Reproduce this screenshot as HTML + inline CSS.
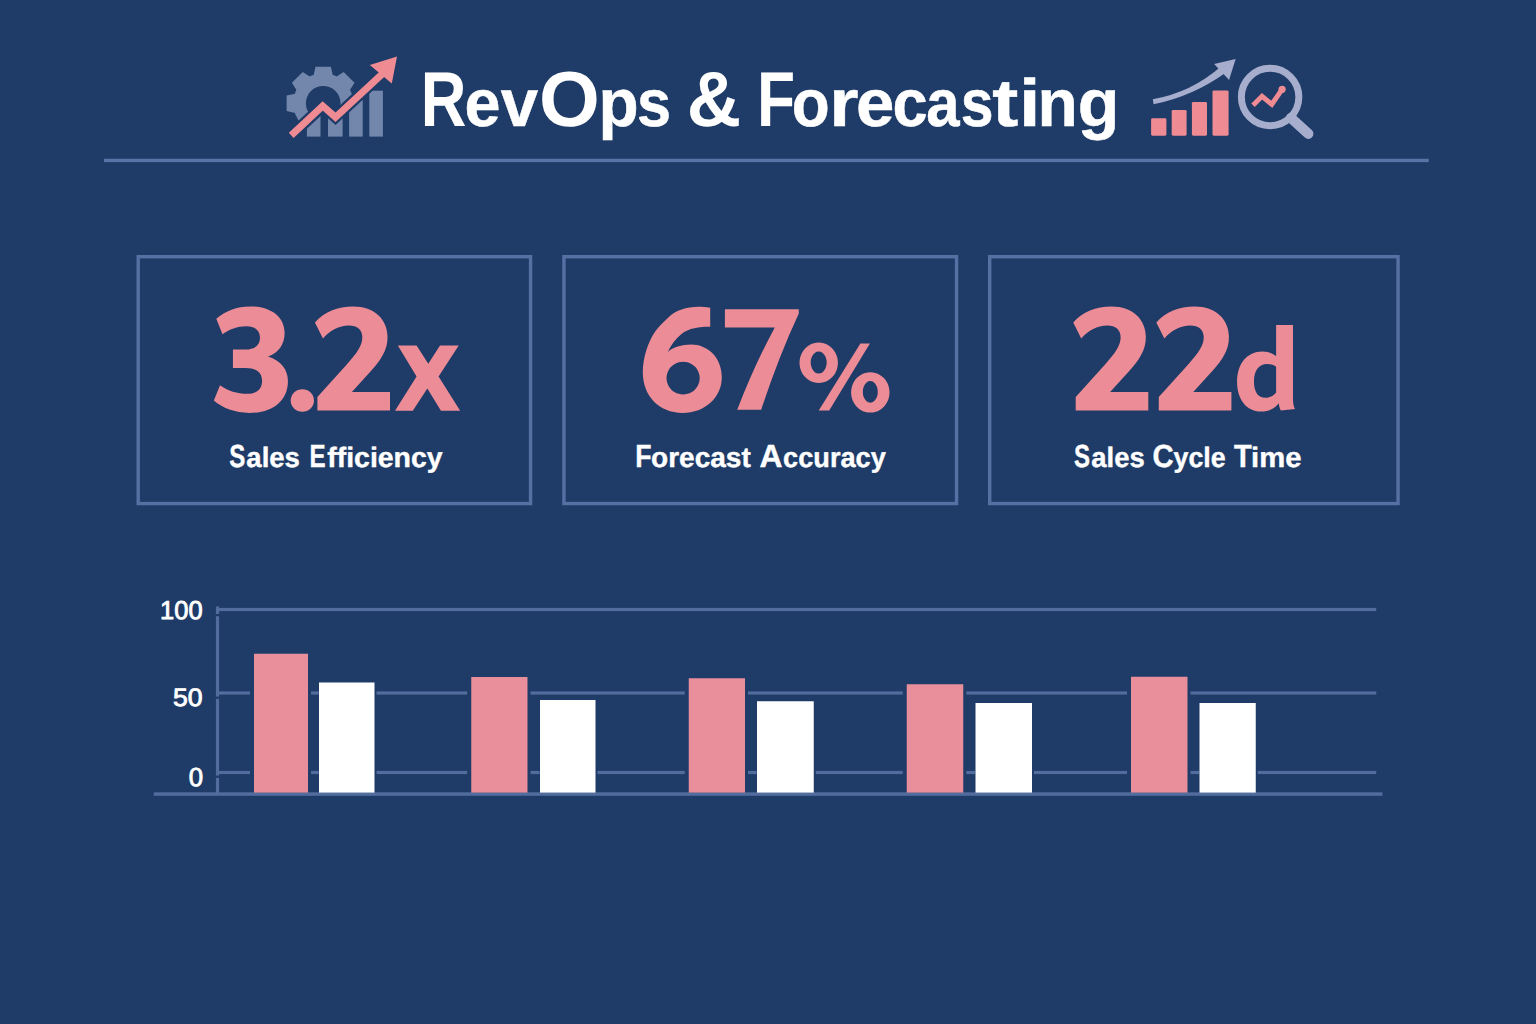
<!DOCTYPE html>
<html lang="en">
<head>
<meta charset="utf-8">
<title>RevOps &amp; Forecasting</title>
<style>
html,body{margin:0;padding:0;font-family:"Liberation Sans",sans-serif;}
body{width:1536px;height:1024px;overflow:hidden;background:#1f3b67;font-family:"Liberation Sans",sans-serif;}
#stage{position:relative;width:1536px;height:1024px;background:#1f3b67;overflow:hidden;}
.t{position:absolute;white-space:nowrap;line-height:1;transform-origin:0 0;font-family:"Liberation Sans",sans-serif;text-rendering:geometricPrecision;}
svg{position:absolute;left:0;top:0;}
</style>
</head>
<body>
<div id="stage">
<svg width="1536" height="1024" viewBox="0 0 1536 1024">
<rect x="104" y="158.75" width="1324.75" height="3.4" fill="#5874a7"/>
<g id="cards" fill="none" stroke="#5570a2" stroke-width="3.4">
<rect x="138.2" y="256.7" width="392.35" height="246.85"/>
<rect x="563.95" y="256.7" width="392.6" height="246.85"/>
<rect x="989.7" y="256.7" width="408.35" height="246.85"/>
</g>
<ellipse cx="302.35" cy="400.5" rx="11.65" ry="11.25" fill="#ec8c96"/>
<g id="chart" shape-rendering="geometricPrecision">
<rect x="216" y="607.90" width="1160.25" height="3.2" fill="#526c9d"/>
<rect x="216" y="691.40" width="1160.25" height="3.2" fill="#526c9d"/>
<rect x="216" y="770.90" width="1160.25" height="3.2" fill="#526c9d"/>
<rect x="215.9" y="606.4" width="3.2" height="187" fill="#526c9d"/>
<rect x="215" y="614.0" width="5" height="2.2" fill="#1f3b67"/>
<rect x="215" y="696.6" width="5" height="2.2" fill="#1f3b67"/>
<rect x="215" y="775.6" width="5" height="2.2" fill="#1f3b67"/>
<rect x="250.00" y="651.75" width="61.00" height="140.55" fill="#1f3b67"/>
<rect x="318.60" y="680.50" width="57.90" height="111.80" fill="#1f3b67"/>
<rect x="467.25" y="675.00" width="63.25" height="117.30" fill="#1f3b67"/>
<rect x="539.60" y="698.00" width="57.90" height="94.30" fill="#1f3b67"/>
<rect x="684.75" y="676.25" width="63.25" height="116.05" fill="#1f3b67"/>
<rect x="756.60" y="699.25" width="59.15" height="93.05" fill="#1f3b67"/>
<rect x="902.75" y="682.25" width="63.50" height="110.05" fill="#1f3b67"/>
<rect x="975.10" y="701.00" width="58.90" height="91.30" fill="#1f3b67"/>
<rect x="1127.00" y="674.75" width="63.50" height="117.55" fill="#1f3b67"/>
<rect x="1199.10" y="701.00" width="58.65" height="91.30" fill="#1f3b67"/>
<rect x="153.75" y="792.3" width="1228.75" height="3.5" fill="#526c9d"/>
<rect x="254.00" y="653.75" width="54.00" height="138.85" fill="#e98f9b"/>
<rect x="319.00" y="682.50" width="55.50" height="110.10" fill="#fff"/>
<rect x="471.25" y="677.00" width="56.25" height="115.60" fill="#e98f9b"/>
<rect x="540.00" y="700.00" width="55.50" height="92.60" fill="#fff"/>
<rect x="688.75" y="678.25" width="56.25" height="114.35" fill="#e98f9b"/>
<rect x="757.00" y="701.25" width="56.75" height="91.35" fill="#fff"/>
<rect x="906.75" y="684.25" width="56.50" height="108.35" fill="#e98f9b"/>
<rect x="975.50" y="703.00" width="56.50" height="89.60" fill="#fff"/>
<rect x="1131.00" y="676.75" width="56.50" height="115.85" fill="#e98f9b"/>
<rect x="1199.50" y="703.00" width="56.25" height="89.60" fill="#fff"/>
</g>
<defs>
<clipPath id="cpUp"><polygon points="250.00,30.00 430.00,30.00 430.00,40.00 397.00,56.60 380.70,75.40 335.50,117.20 322.70,105.90 291.20,135.40 260.00,164.60 250.00,170.00"/></clipPath>
<clipPath id="cpDn"><polygon points="260.00,164.60 291.20,135.40 322.70,105.90 335.50,117.20 380.70,75.40 397.00,56.60 430.00,40.00 430.00,170.00 250.00,170.00"/></clipPath>
</defs>
<g id="icon-left">
<g clip-path="url(#cpUp)" fill="#7287ab">
<circle cx="323.20" cy="103.30" r="30.00"/>
<path d="M313.60,75.30L315.50,66.70L330.90,66.70L332.80,75.30ZM336.21,76.71L343.64,71.98L354.52,82.86L349.79,90.29ZM351.20,93.70L359.80,95.60L359.80,111.00L351.20,112.90ZM349.79,116.31L354.52,123.74L343.64,134.62L336.21,129.89ZM332.80,131.30L330.90,139.90L315.50,139.90L313.60,131.30ZM295.20,112.90L286.60,111.00L286.60,95.60L295.20,93.70ZM296.61,90.29L291.88,82.86L302.76,71.98L310.19,76.71Z"/>
<circle cx="323.20" cy="103.30" r="17.30" fill="#1f3b67"/>
</g>
<g clip-path="url(#cpDn)" fill="#7287ab">
<rect x="306.90" y="100.00" width="13.60" height="36.60"/>
<rect x="328.00" y="100.00" width="14.60" height="36.60"/>
<rect x="349.10" y="92.00" width="13.60" height="44.60"/>
<rect x="369.30" y="90.70" width="13.60" height="45.90"/>
</g>
<path d="M291.20,135.40L322.70,105.90L335.50,117.20L383.70,72.60" fill="none" stroke="#1f3b67" stroke-width="11.6" stroke-linejoin="miter" stroke-miterlimit="6"/>
<polygon points="369.80,64.90 397.00,56.60 391.80,83.60" fill="#1f3b67" stroke="#1f3b67" stroke-width="5" stroke-linejoin="miter"/>
<path d="M291.20,135.40L322.70,105.90L335.50,117.20L383.70,72.60" fill="none" stroke="#ef8b92" stroke-width="7.0" stroke-linejoin="miter" stroke-miterlimit="6"/>
<polygon points="369.80,64.90 397.00,56.60 391.80,83.60" fill="#ef8b92"/>
</g>
<g id="icon-right">
<rect x="1151.10" y="118.30" width="15.30" height="17.40" rx="1.4" fill="#ef8b92"/>
<rect x="1171.70" y="109.90" width="14.90" height="25.80" rx="1.4" fill="#ef8b92"/>
<rect x="1191.90" y="101.90" width="15.10" height="33.80" rx="1.4" fill="#ef8b92"/>
<rect x="1212.50" y="90.40" width="16.10" height="45.30" rx="1.4" fill="#ef8b92"/>
<path d="M1152.8,99.2 Q1191.5,92.5 1221.5,66.0 L1226.0,72.5 Q1193.0,96.3 1153.6,104.3 Z" fill="#a7adcd"/>
<polygon points="1214.1,63.9 1235.6,59.1 1229.1,79.9" fill="#a7adcd"/>
<circle cx="1270.1" cy="97" r="28.75" fill="none" stroke="#a7adcd" stroke-width="7"/>
<path d="M1291.0,117.9 L1308.3,133.8" stroke="#a7adcd" stroke-width="10.2" stroke-linecap="round" fill="none"/>
<path d="M1253,105.2 L1262,96.3 L1271.8,104.3 L1282.1,89.3" fill="none" stroke="#ef8b92" stroke-width="4.9" stroke-linejoin="miter"/>
<circle cx="1282.1" cy="89.3" r="3.6" fill="#ef8b92"/>
</g>
<g id="glyphs" fill="#ec8c96">
<path fill-rule="evenodd" d="M710.2,307.7 C706,306.9 702,306.8 698.5,306.8 C686,306.8 676,310.5 668.9,316.9 C662,323 657.5,328 654.2,332.9 C648.5,341.5 642.8,357 642.8,372.3 C642.8,396 659,412.9 682.5,412.9 C705.5,412.9 721.8,397 721.8,377.2 C721.8,358 708,344.6 691.1,344.6 C681.5,344.6 673,347.5 667.7,352 C671,345 675.5,339 681.2,334.2 C689,328 699,326.8 710.2,326.8 Z M683.1,361.8 a16.6,16.3 0 1,0 0.01,0 Z"/>
<path d="M724.9,309.3 L798.8,309.3 L798.8,313.5 Q778.5,357 761.2,409.8 L737.2,409.8 Q754,366 774.8,327.4 L724.9,327.4 Z"/>
<path fill-rule="evenodd" d="M818.7,342.6 a19.2,20.2 0 1,0 0.01,0 Z M818.7,351.6 a8,11 0 1,1 -0.01,0 Z"/>
<path fill-rule="evenodd" d="M870.3,372.2 a19.2,20.2 0 1,0 0.01,0 Z M870.3,381.1 a7.5,10.8 0 1,1 -0.01,0 Z"/>
<polygon points="818.7,410.6 829.2,410.6 869.9,343.6 860.4,343.6"/>
<path transform="translate(204,296) scale(0.123077)" d="M100,185 C175,120 265,85 375,85 C545,85 655,170 655,300 C655,395 605,460 520,492 C625,525 682,600 682,690 C682,850 560,950 370,950 C250,950 150,910 80,850 L130,725 C195,770 270,795 350,795 C430,795 472,755 472,690 C472,620 425,585 340,585 L235,585 L235,435 L335,435 C415,435 455,400 455,340 C455,280 415,245 345,245 C270,245 205,270 150,310 Z"/>
<path transform="translate(305.70,296) scale(0.123077)" d="M75,215 C150,130 260,85 385,85 C560,85 665,190 665,335 C665,440 610,520 530,610 L375,780 L685,780 L685,930 L95,930 L95,820 L330,560 C420,460 460,400 460,335 C460,275 420,240 350,240 C270,240 200,280 140,345 Z"/>
<path transform="translate(1064,296) scale(0.123077)" d="M75,215 C150,130 260,85 385,85 C560,85 665,190 665,335 C665,440 610,520 530,610 L375,780 L685,780 L685,930 L95,930 L95,820 L330,560 C420,460 460,400 460,335 C460,275 420,240 350,240 C270,240 200,280 140,345 Z"/>
<path transform="translate(1147.10,296) scale(0.123077)" d="M75,215 C150,130 260,85 385,85 C560,85 665,190 665,335 C665,440 610,520 530,610 L375,780 L685,780 L685,930 L95,930 L95,820 L330,560 C420,460 460,400 460,335 C460,275 420,240 350,240 C270,240 200,280 140,345 Z"/>
<polygon transform="translate(380,330) scale(0.093750)" points="190,165 390,165 515,360 640,165 840,165 625,495 855,860 650,860 505,625 350,860 160,860 390,495"/>
<path fill-rule="evenodd" transform="translate(1226,314) scale(0.105495)" d="M475,105 L635,105 L635,800 C635,850 642,880 655,900 L520,915 C510,895 503,870 500,845 C460,900 400,925 330,925 C195,925 105,810 105,645 C105,470 200,355 345,355 C400,355 445,372 475,400 Z M475,500 C450,482 420,475 390,475 C310,475 265,540 265,640 C265,740 305,795 375,795 C415,795 450,775 475,745 Z"/>
</g>
</svg>
<span class="t" style="left:420px;top:61px;font-size:77.90px;font-weight:700;color:#fff;transform:translateX(0.63px) scaleX(0.8117);">R</span>
<span class="t" style="left:464px;top:70px;font-size:67.00px;font-weight:700;color:#fff;transform:translateX(0.38px) scaleX(0.9659);-webkit-text-stroke:0.5px #fff;">e</span>
<span class="t" style="left:500px;top:70px;font-size:67.00px;font-weight:700;color:#fff;transform:translateX(0.86px) scaleX(1.0030);-webkit-text-stroke:0.5px #fff;">v</span>
<span class="t" style="left:539px;top:61px;font-size:77.90px;font-weight:700;color:#fff;transform:translateX(0.08px) scaleX(1.0033);">O</span>
<span class="t" style="left:598px;top:70px;font-size:67.00px;font-weight:700;color:#fff;transform:translateX(0.43px) scaleX(0.9814);-webkit-text-stroke:0.5px #fff;">p</span>
<span class="t" style="left:636px;top:70px;font-size:67.00px;font-weight:700;color:#fff;transform:translateX(0.99px) scaleX(0.9150);-webkit-text-stroke:0.5px #fff;">s</span>
<span class="t" style="left:686px;top:61px;font-size:77.90px;font-weight:700;color:#fff;transform:translateX(0.67px) scaleX(0.9672);">&amp;</span>
<span class="t" style="left:757px;top:61px;font-size:77.90px;font-weight:700;color:#fff;transform:translateX(0.08px) scaleX(0.8012);">F</span>
<span class="t" style="left:791px;top:70px;font-size:67.00px;font-weight:700;color:#fff;transform:translateX(0.68px) scaleX(0.9261);-webkit-text-stroke:0.5px #fff;">o</span>
<span class="t" style="left:829px;top:70px;font-size:67.00px;font-weight:700;color:#fff;transform:translateX(0.17px) scaleX(1.1201);-webkit-text-stroke:0.5px #fff;">r</span>
<span class="t" style="left:856px;top:70px;font-size:67.00px;font-weight:700;color:#fff;transform:translateX(0.05px) scaleX(1.0286);-webkit-text-stroke:0.5px #fff;">e</span>
<span class="t" style="left:892px;top:70px;font-size:67.00px;font-weight:700;color:#fff;transform:translateX(0.55px) scaleX(0.9442);-webkit-text-stroke:0.5px #fff;">c</span>
<span class="t" style="left:926px;top:70px;font-size:67.00px;font-weight:700;color:#fff;transform:translateX(0.19px) scaleX(0.8943);-webkit-text-stroke:0.5px #fff;">a</span>
<span class="t" style="left:960px;top:70px;font-size:67.00px;font-weight:700;color:#fff;transform:translateX(0.76px) scaleX(0.8786);-webkit-text-stroke:0.5px #fff;">s</span>
<span class="t" style="left:992px;top:70px;font-size:67.00px;font-weight:700;color:#fff;transform:translateX(0.24px) scaleX(1.1667);-webkit-text-stroke:0.5px #fff;">t</span>
<span class="t" style="left:1019px;top:70px;font-size:67.00px;font-weight:700;color:#fff;transform:translateX(0.09px) scaleX(1.1499);-webkit-text-stroke:0.5px #fff;">i</span>
<span class="t" style="left:1037px;top:70px;font-size:67.00px;font-weight:700;color:#fff;transform:translateX(0.60px) scaleX(0.9846);-webkit-text-stroke:0.5px #fff;">n</span>
<span class="t" style="left:1077px;top:70px;font-size:67.00px;font-weight:700;color:#fff;transform:translateX(0.69px) scaleX(1.0171);-webkit-text-stroke:0.5px #fff;">g</span>
<span class="t" style="left:229px;top:441px;font-size:31.90px;font-weight:700;color:#fff;transform:translateX(0.31px) scaleX(0.7540);-webkit-text-stroke:0.4px #fff;">S</span>
<span class="t" style="left:246px;top:444px;font-size:28.00px;font-weight:700;color:#fff;transform:translateX(0.34px) scaleX(0.9827);-webkit-text-stroke:0.4px #fff;">ales</span>
<span class="t" style="left:309px;top:441px;font-size:31.90px;font-weight:700;color:#fff;transform:translateX(0.61px) scaleX(0.7574);-webkit-text-stroke:0.4px #fff;">E</span>
<span class="t" style="left:327px;top:444px;font-size:28.00px;font-weight:700;color:#fff;transform:translateX(0.23px) scaleX(1.0158);-webkit-text-stroke:0.4px #fff;">fficiency</span>
<span class="t" style="left:635px;top:441px;font-size:31.90px;font-weight:700;color:#fff;transform:translateX(0.27px) scaleX(0.8333);-webkit-text-stroke:0.4px #fff;">F</span>
<span class="t" style="left:651px;top:444px;font-size:28.00px;font-weight:700;color:#fff;transform:translateX(0.04px) scaleX(1.0006);-webkit-text-stroke:0.4px #fff;">orecast</span>
<span class="t" style="left:759px;top:441px;font-size:31.90px;font-weight:700;color:#fff;transform:translateX(0.38px) scaleX(0.9982);-webkit-text-stroke:0.4px #fff;">A</span>
<span class="t" style="left:783px;top:444px;font-size:28.00px;font-weight:700;color:#fff;transform:translateX(0.12px) scaleX(0.9702);-webkit-text-stroke:0.4px #fff;">ccuracy</span>
<span class="t" style="left:1074px;top:441px;font-size:31.90px;font-weight:700;color:#fff;transform:translateX(0.04px) scaleX(0.7529);-webkit-text-stroke:0.4px #fff;">S</span>
<span class="t" style="left:1091px;top:444px;font-size:28.00px;font-weight:700;color:#fff;transform:translateX(0.34px) scaleX(0.9793);-webkit-text-stroke:0.4px #fff;">ales</span>
<span class="t" style="left:1152px;top:441px;font-size:31.90px;font-weight:700;color:#fff;transform:translateX(0.50px) scaleX(0.9184);-webkit-text-stroke:0.4px #fff;">C</span>
<span class="t" style="left:1173px;top:444px;font-size:28.00px;font-weight:700;color:#fff;transform:translateX(0.50px) scaleX(0.9575);-webkit-text-stroke:0.4px #fff;">ycle</span>
<span class="t" style="left:1233px;top:441px;font-size:31.90px;font-weight:700;color:#fff;transform:translateX(0.99px) scaleX(0.9082);-webkit-text-stroke:0.4px #fff;">T</span>
<span class="t" style="left:1251px;top:444px;font-size:28.00px;font-weight:700;color:#fff;transform:translateX(0.04px) scaleX(1.0437);-webkit-text-stroke:0.4px #fff;">ime</span>
<span class="t" style="left:160px;top:599px;font-size:25.77px;font-weight:400;color:#fff;transform:translateX(0.11px) scaleX(0.9878);-webkit-text-stroke:0.85px #fff;">100</span>
<span class="t" style="left:172px;top:686px;font-size:25.21px;font-weight:400;color:#fff;transform:translateX(0.94px) scaleX(1.0569);-webkit-text-stroke:0.85px #fff;">50</span>
<span class="t" style="left:188px;top:764px;font-size:26.06px;font-weight:400;color:#fff;transform:translateX(0.68px) scaleX(0.9905);-webkit-text-stroke:0.85px #fff;">0</span>
</div>
</body>
</html>
